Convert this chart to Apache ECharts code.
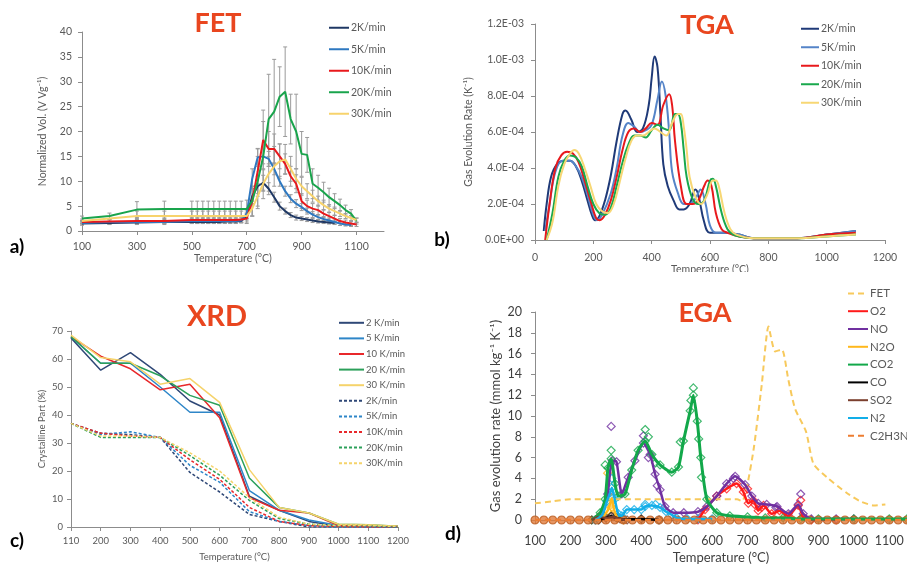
<!DOCTYPE html>
<html>
<head>
<meta charset="utf-8">
<script src="https://cdn.jsdelivr.net/npm/echarts@6/dist/echarts.min.js"></script>
<style>
  html, body { margin: 0; padding: 0; background: #fff; }
  #main { width: 907px; height: 565px; }
</style>
</head>
<body>
<div id="main"></div>
<script>
// ---- a) FET ----
var fetTemps = [100,200,300,400,500,520,540,560,580,600,620,640,660,680,700,720,740,760,780,800,820,840,860,880,900,920,940,960,980,1000,1020,1040,1060,1080,1100];
var fet2  = [1.5,1.6,1.7,1.8,1.8,1.8,1.8,1.8,1.8,1.8,1.9,1.9,1.9,2.0, 3.0,7.0,9.0,9.7,8.5,6.8,5.0,4.0,3.2,2.7,2.5,2.3,2.1,1.9,1.8,1.7,1.6,null,null,null,null];
var fet5  = [1.6,1.8,1.8,1.8,2.0,2.0,2.0,2.0,2.0,2.0,2.0,2.0,2.0,2.1, 3.5,10.5,14.8,15.0,14.5,12.5,10.0,8.0,6.5,5.5,4.8,4.0,3.3,2.8,2.4,2.1,1.8,1.5,1.3,1.2,null];
var fet10 = [1.8,1.9,2.0,2.0,2.2,2.2,2.2,2.2,2.2,2.2,2.2,2.2,2.2,2.3, 2.5,6.0,12.0,18.3,16.5,16.5,15.0,13.5,11.0,9.5,6.0,5.0,4.5,4.2,3.5,3.0,2.5,2.0,1.7,1.5,1.3];
var fet20 = [2.5,3.0,4.3,4.4,4.4,4.4,4.4,4.4,4.4,4.4,4.4,4.4,4.4,4.4, 4.4,6.0,10.0,15.0,22.5,24.0,27.0,28.0,22.5,20.0,15.5,15.3,9.5,8.7,7.8,6.8,6.0,5.2,4.2,3.5,2.0];
var fet30 = [2.0,2.5,3.0,3.0,3.0,3.0,3.0,3.0,3.0,3.0,3.0,3.0,3.0,3.0, 3.0,4.5,7.0,9.5,11.5,13.0,14.0,14.4,12.5,10.5,9.0,8.0,7.0,6.0,5.2,4.5,4.0,3.5,3.0,2.6,2.2];
var fetErr2  = [0.3,0.3,0.3,0.3,0.3,0.3,0.3,0.3,0.3,0.3,0.3,0.3,0.3,0.3, 0.8,1.5,2.0,1.5,1.2,1.0,0.8,0.6,0.5,0.5,0.4,0.4,0.4,0.3,0.3,0.3,0.3,null,null,null,null];
var fetErr5  = [0.4,0.5,0.5,0.5,0.5,0.5,0.5,0.5,0.5,0.5,0.5,0.5,0.5,0.5, 1.0,2.0,1.8,1.5,1.5,1.2,1.0,1.0,0.8,0.8,0.7,0.6,0.6,0.5,0.5,0.5,0.4,0.4,0.3,0.3,null];
var fetErr10 = [0.3,0.4,0.5,0.5,0.6,0.6,0.6,0.6,0.6,0.6,0.6,0.6,0.6,0.6, 1.0,3.0,4.5,6.0,3.5,3.0,2.5,2.0,2.0,1.8,1.5,1.2,1.0,1.0,0.8,0.8,0.6,0.5,0.5,0.4,0.4];
var fetErr20 = [0.5,0.6,1.6,1.6,1.6,1.6,1.6,1.6,1.6,1.6,1.6,1.6,1.6,1.6, 1.8,3.0,5.0,7.0,9.0,10.5,6.0,9.0,5.0,7.5,4.5,3.5,3.0,2.5,2.0,1.8,1.5,1.2,1.0,0.8,0.6];
var fetErr30 = [0.4,0.5,1.0,1.0,1.0,1.0,1.0,1.0,1.0,1.0,1.0,1.0,1.0,1.0, 1.2,1.5,2.5,3.0,3.5,4.0,3.5,3.0,2.5,2.0,1.8,1.5,1.2,1.0,1.0,0.8,0.8,0.6,0.5,0.5,0.4];

// ---- b) TGA (values in 1e-4 K^-1) ----
var tgaTickLabels = ['0.0E+00','2.0E-04','4.0E-04','6.0E-04','8.0E-04','1.0E-03','1.2E-03'];
var tga2 = [[30,0.5],[40,2.0],[55,3.5],[75,4.2],[100,4.4],[120,4.4],[140,4.1],[160,3.3],[180,2.2],[195,1.4],[206,1.1],[220,1.3],[240,2.2],[260,3.6],[280,5.5],[300,7.0],[310,7.2],[330,6.7],[350,6.0],[370,6.2],[390,7.5],[400,9.0],[410,10.2],[420,9.6],[430,7.0],[440,4.2],[455,3.0],[475,2.2],[495,1.7],[510,1.7],[530,2.0],[550,2.8],[560,2.5],[580,1.0],[600,0.4],[650,0.4],[700,0.3],[750,0.1],[800,0.1],[900,0.1],[1000,0.3],[1100,0.5]];
var tga5 = [[35,0.5],[50,2.0],[70,3.8],[95,4.4],[120,4.4],[140,4.1],[160,3.5],[180,2.5],[200,1.4],[212,1.1],[230,1.4],[260,2.6],[280,4.0],[300,5.8],[320,6.5],[340,6.3],[360,6.0],[380,6.1],[400,6.4],[420,7.8],[435,8.8],[448,8.0],[460,6.0],[470,3.8],[490,2.6],[510,2.0],[530,2.0],[550,2.3],[568,2.8],[585,2.0],[600,0.8],[620,0.4],[650,0.4],[700,0.3],[750,0.1],[800,0.1],[900,0.1],[1000,0.3],[1100,0.5]];
var tga10 = [[35,0.0],[50,2.0],[70,4.0],[90,4.7],[110,4.9],[130,4.8],[150,4.3],[170,3.3],[190,2.2],[210,1.2],[222,1.1],[240,1.4],[260,2.2],[280,3.5],[300,5.0],[320,6.0],[340,6.2],[360,6.0],[380,6.2],[400,6.5],[420,6.4],[440,7.5],[460,8.1],[470,7.5],[480,5.5],[500,3.0],[520,2.0],[540,2.0],[560,2.2],[580,3.0],[592,3.3],[605,3.0],[620,1.5],[640,0.6],[660,0.4],[700,0.2],[750,0.1],[800,0.1],[900,0.1],[1000,0.3],[1100,0.4]];
var tga20 = [[40,0.0],[60,1.5],[80,3.5],[100,4.4],[120,4.7],[140,4.6],[160,4.1],[180,3.0],[200,2.0],[220,1.5],[240,1.4],[260,1.8],[280,3.0],[300,4.3],[320,5.3],[340,5.8],[360,5.8],[380,5.7],[400,6.1],[420,6.4],[440,6.2],[460,6.1],[480,7.0],[490,7.0],[500,6.5],[510,5.0],[520,3.5],[540,2.3],[560,2.0],[580,2.2],[600,3.3],[610,3.4],[620,3.0],[640,1.5],[660,0.6],[680,0.3],[700,0.2],[750,0.1],[800,0.1],[900,0.1],[1000,0.2],[1100,0.3]];
var tga30 = [[40,0.0],[60,1.0],[80,3.0],[100,4.2],[120,4.8],[135,5.0],[150,4.8],[170,4.0],[190,3.0],[210,2.0],[230,1.6],[250,1.5],[270,2.0],[290,3.2],[310,4.5],[330,5.5],[350,5.8],[370,5.8],[390,6.0],[410,6.2],[430,6.0],[450,5.8],[470,6.5],[490,7.0],[500,7.0],[510,6.3],[520,5.0],[530,3.5],[550,2.4],[570,2.0],[590,2.5],[610,3.3],[620,3.3],[630,3.0],[650,1.5],[670,0.6],[690,0.3],[750,0.1],[800,0.1],[900,0.1],[1000,0.2],[1100,0.3]];

// ---- c) XRD ----
var xrdTemps = ['110','200','300','400','500','600','700','800','900','1000','1100','1200'];
var xrd2s  = [67.5,56,62.3,54.5,45,40,11,6,2,0.3,0.2,0.2];
var xrd5s  = [68,58.5,58.5,50,41,41,13,6,2.5,0.5,0.3,0.2];
var xrd10s = [68,61,56.5,49,51,39,10.5,6,5,0.5,0.5,0.3];
var xrd20s = [68,58.5,58.5,54,47,43.5,17.5,7,5,1,0.8,0.3];
var xrd30s = [68.5,60.5,59,51,53,44.5,20.5,7,5,1,0.8,0.3];
var xrd2d  = [37,33.5,33,32,19.5,12.5,4.5,2,0,0,0,0];
var xrd5d  = [37,33,34,32,22,16,5.5,2,0.5,0,0,0];
var xrd10d = [37,33.5,32.5,32,24,17,7,2,0.5,0.2,0,0];
var xrd20d = [37,32,32,32,25.5,18.5,9.5,3,1,0.5,0.5,0];
var xrd30d = [37,32.5,32.5,32,26.5,20,10.5,3.5,1,0.5,0.5,0.2];

// ---- d) EGA ----
var egaFET = [[100,1.6],[150,1.8],[200,2.0],[300,2.0],[400,2.0],[500,2.0],[600,2.0],[670,2.0],[685,1.8],[700,3.5],[718,7.0],[740,13.0],[759,18.6],[778,16.2],[797,16.4],[815,13.5],[834,10.7],[865,8.5],[886,5.4],[924,4.1],[980,2.6],[1018,1.8],[1056,1.4],[1089,1.5]];
var egaO2 = [[560,0],[580,1.0],[613,2.3],[641,3.0],[669,3.5],[688,2.7],[702,1.6],[716,1.9],[730,0.9],[745,1.4],[768,0.6],[790,0.9],[815,0.4],[843,1.4],[857,0.3],[880,0],[950,0]];
var egaNO = [[270,0],[290,0.5],[305,2.5],[318,5.7],[330,5.6],[345,2.5],[363,4.1],[382,5.7],[406,7.4],[425,6.3],[439,4.4],[453,2.9],[467,1.3],[490,0.7],[520,0.7],[560,0.8],[585,1.3],[613,2.3],[641,3.5],[665,4.2],[693,3.4],[712,2.3],[730,1.6],[754,1.5],[783,1.3],[815,0.6],[843,1.5],[857,0.6],[880,0.1],[950,0.1],[1000,0.1]];
var egaN2O = [[270,0],[290,0.3],[305,0.9],[312,1.6],[317,2.1],[323,1.0],[333,0.2],[350,0]];
var egaCO2 = [[260,0],[284,0.7],[298,2.0],[306,5.0],[315,5.9],[326,3.5],[335,2.3],[354,2.5],[373,4.8],[391,6.7],[411,7.6],[430,6.3],[453,5.3],[486,4.6],[505,5.1],[519,7.6],[538,10.5],[547,12.0],[558,9.5],[568,6.0],[585,2.0],[613,0.7],[650,0.4],[700,0.3],[750,0.2],[800,0.2],[850,0.1],[900,0.1],[1000,0.1],[1100,0.1],[1150,0.1]];
var egaCO = [[280,0],[300,0.2],[315,0.35],[330,0.2],[350,0.05],[400,0.1],[450,0]];
var egaSO2 = [[260,0],[280,0.3],[300,0.2],[320,0.3],[340,0.1],[360,0]];
var egaN2 = [[270,0],[290,0.5],[303,1.8],[312,2.6],[317,3.1],[325,2.0],[335,0.6],[345,0.4],[359,1.0],[380,1.0],[400,1.0],[411,1.3],[430,1.4],[453,1.2],[470,0.8],[486,0.5],[500,0.2],[530,0.1],[560,0.1],[600,0.1]];
var egaC2H3NTemps = [100,125,150,175,200,225,250,275,300,325,350,375,400,425,450,475,500,525,550,575,600,625,650,675,700,725,750,775,800,825,850,875,900,925,950,975,1000,1025,1050,1075,1100,1125,1150];
var egaC2H3N = [0,0,0,0,0,0,0,0,0,0,0,0,0,0,0,0,0,0,0,0,0,0,0,0,0,0,0,0,0,0,0,0,0,0,0,0,0,0,0,0,0,0,0];
// extra measured points (diamonds) off the fitted lines
var co2Marks = [[298,5.3],[315,6.7],[411,8.7],[420,8.0],[440,5.5],[510,7.5],[540,11.5],[547,12.7],[562,7.8],[570,4.1]];
var noMarks  = [[315,9.0],[406,8.1],[420,6.0],[445,3.3],[660,4.0],[850,2.5],[780,1.2]];
var o2Marks  = [[850,1.9],[700,3.0],[720,1.5],[740,1.2]];
var n2oMarks = [[305,4.5],[317,1.2]];
var n2Marks  = [[317,4.0],[411,1.5],[440,1.5]];

var FONT = 'Lato, "Liberation Sans", sans-serif';
var TXT = '#595959';
var AX = '#8c8c8c';

function zip(xs, ys) {
  var out = [];
  for (var i = 0; i < xs.length; i++) out.push([xs[i], ys[i]]);
  return out;
}
function errData(xs, ys, es) {
  var out = [];
  for (var i = 0; i < xs.length; i++) {
    if (ys[i] == null || es[i] == null) continue;
    out.push([xs[i], Math.max(0, ys[i] - es[i]), ys[i] + es[i]]);
  }
  return out;
}
function plain(v) { return String(v); }
function line(name, data, color, idx, width, dashed, smooth) {
  return {
    name: name, type: 'line', data: data, xAxisIndex: idx, yAxisIndex: idx,
    symbol: 'none', smooth: smooth || false, connectNulls: false,
    lineStyle: { color: color, width: width, type: dashed ? dashed : 'solid' },
    itemStyle: { color: color }, z: 3
  };
}
function marks(name, data, color, sym, size) {
  return {
    name: name, type: 'scatter', data: data, xAxisIndex: 3, yAxisIndex: 3,
    symbol: sym, symbolSize: size,
    itemStyle: { color: sym === 'circle' ? '#e07b39' : 'rgba(255,255,255,0)', borderColor: color, borderWidth: 1.2 },
    z: 2, silent: true
  };
}
function errorBars(data) {
  return {
    type: 'custom', xAxisIndex: 0, yAxisIndex: 0, data: data, z: 1, silent: true,
    encode: { x: 0, y: [1, 2] },
    renderItem: function (params, api) {
      var p1 = api.coord([api.value(0), api.value(1)]);
      var p2 = api.coord([api.value(0), api.value(2)]);
      var st = { stroke: '#9a9a9a', lineWidth: 1 };
      return { type: 'group', children: [
        { type: 'line', shape: { x1: p1[0], y1: p1[1], x2: p2[0], y2: p2[1] }, style: st },
        { type: 'line', shape: { x1: p1[0] - 2, y1: p1[1], x2: p1[0] + 2, y2: p1[1] }, style: st },
        { type: 'line', shape: { x1: p2[0] - 2, y1: p2[1], x2: p2[0] + 2, y2: p2[1] }, style: st }
      ]};
    }
  };
}
function valAxis(idx, o) {
  var a = {
    type: 'value', gridIndex: idx,
    axisLine: { show: true, lineStyle: { color: AX, width: 1 } },
    axisTick: { show: true, length: 4, lineStyle: { color: AX } },
    splitLine: { show: false },
    axisLabel: { color: TXT, fontFamily: FONT, fontSize: 10.5, formatter: plain },
    nameTextStyle: { color: TXT, fontFamily: FONT, fontSize: 10.5 }
  };
  for (var k in o) {
    if (typeof o[k] === 'object' && a[k] && !Array.isArray(o[k])) { for (var j in o[k]) a[k][j] = o[k][j]; }
    else a[k] = o[k];
  }
  return a;
}
// legend rows: line icon only (symbol hidden), row pitch set by lineHeight
function legend(names, left, top, w, pitch, fs) {
  return {
    orient: 'vertical', left: left, top: top, itemWidth: w, itemHeight: 10, itemGap: 0,
    data: names, selectedMode: false,
    itemStyle: { opacity: 0 },
    formatter: function (n) { return n.split('|')[1]; },
    textStyle: { color: TXT, fontFamily: FONT, fontSize: fs, lineHeight: pitch, padding: [0, 0, 0, -3] }
  };
}

var fetColors = ['#1f3864', '#2e78c0', '#e8191c', '#19a44c', '#f7d36c'];
var tgaColors = ['#1f3a78', '#5584c8', '#e8191c', '#19a84d', '#f7d774'];
var xrdColors = ['#2f4877', '#2e86c8', '#e8282b', '#2ca05a', '#f5d36b'];
var rates = ['2K/min', '5K/min', '10K/min', '20K/min', '30K/min'];
var xrdSolidNames = ['2 K/min', '5 K/min', '10 K/min', '20 K/min', '30 K/min'];

var series = [];
// error bars first (under lines)
[[fet2, fetErr2], [fet5, fetErr5], [fet10, fetErr10], [fet20, fetErr20], [fet30, fetErr30]].forEach(function (p) {
  series.push(errorBars(errData(fetTemps, p[0], p[1])));
});
[fet2, fet5, fet10, fet20, fet30].forEach(function (d, i) {
  series.push(line('a|' + rates[i], zip(fetTemps, d), fetColors[i], 0, 2));
});
[tga2, tga5, tga10, tga20, tga30].forEach(function (d, i) {
  series.push(line('b|' + rates[i], d, tgaColors[i], 1, 2, null, 0.4));
});
[xrd2s, xrd5s, xrd10s, xrd20s, xrd30s].forEach(function (d, i) {
  series.push(line('c|' + xrdSolidNames[i], d, xrdColors[i], 2, 1.5));
});
[xrd2d, xrd5d, xrd10d, xrd20d, xrd30d].forEach(function (d, i) {
  series.push(line('cd|' + rates[i], d, xrdColors[i], 2, 1.5, [3, 2]));
});

var egaDefs = [
  ['FET', egaFET, '#f7c95c', [6, 4], null],
  ['O2', egaO2, '#ff1a1a', null, o2Marks],
  ['NO', egaNO, '#7030a0', null, noMarks],
  ['N2O', egaN2O, '#ffb81c', null, n2oMarks],
  ['CO2', egaCO2, '#12a84a', null, co2Marks],
  ['CO', egaCO, '#000000', null, null],
  ['SO2', egaSO2, '#7b3f2e', null, null],
  ['N2', egaN2, '#12aee8', null, n2Marks],
  ['C2H3N', zip(egaC2H3NTemps, egaC2H3N), '#ed7d31', [6, 4], null]
];
egaDefs.forEach(function (d) {
  if (d[0] !== 'FET' && d[0] !== 'C2H3N') {
    series.push(marks('m_' + d[0], d[1].concat(d[4] || []), d[2], 'diamond', 8));
  }
});
series.push(marks('m_C2H3N', zip(egaC2H3NTemps, egaC2H3N), '#b85a1e', 'circle', 8));
egaDefs.forEach(function (d) {
  var s = line('d|' + d[0], d[1], d[2], 3, d[0] === 'FET' ? 2 : 2.5, d[3], 0.2);
  if (d[0] === 'CO2') s.lineStyle.width = 3;
  series.push(s);
});

var option = {
  animation: false,
  backgroundColor: '#fff',
  grid: [
    { left: 82, top: 32, width: 302, height: 199 },
    { left: 535, top: 24, width: 350, height: 216 },
    { left: 71, top: 331, width: 327, height: 196 },
    { left: 535, top: 312, width: 372, height: 212 }
  ],
  xAxis: [
    valAxis(0, { min: 100, max: 1200, interval: 200, name: 'Temperature (°C)', nameLocation: 'middle', nameGap: 21,
      axisLabel: { margin: 10, showMaxLabel: false } }),
    valAxis(1, { min: 0, max: 1200, interval: 200, name: 'Temperature (°C)', nameLocation: 'middle', nameGap: 22,
      axisLabel: { margin: 12 } }),
    { type: 'category', gridIndex: 2, data: xrdTemps, boundaryGap: false,
      name: 'Temperature (°C)', nameLocation: 'middle', nameGap: 25,
      nameTextStyle: { color: TXT, fontFamily: FONT, fontSize: 9.5 },
      axisLine: { lineStyle: { color: AX } },
      axisTick: { length: 4, interval: 0, lineStyle: { color: AX } },
      axisLabel: { color: TXT, fontFamily: FONT, fontSize: 9.5, interval: 0, margin: 9 } },
    valAxis(3, { min: 100, max: 1150, interval: 100, name: 'Temperature (°C)', nameLocation: 'middle', nameGap: 31,
      axisLabel: { fontSize: 12.5, margin: 14, showMaxLabel: false, color: '#404040' },
      nameTextStyle: { fontSize: 13, color: '#404040' } })
  ],
  yAxis: [
    valAxis(0, { min: 0, max: 40, interval: 5, name: 'Normalized Vol. (V Vg⁻¹)', nameLocation: 'middle', nameGap: 34,
      axisLabel: { margin: 10 } }),
    valAxis(1, { min: 0, max: 12, interval: 2, name: 'Gas Evolution Rate (K⁻¹)', nameLocation: 'middle', nameGap: 61,
      axisLabel: { margin: 11, formatter: function (v) { return tgaTickLabels[Math.round(v / 2)]; } } }),
    valAxis(2, { min: 0, max: 70, interval: 10, name: 'Crystalline Part (%)', nameLocation: 'middle', nameGap: 24,
      axisLabel: { fontSize: 9.5, margin: 8 }, nameTextStyle: { fontSize: 9.5 } }),
    valAxis(3, { min: 0, max: 20, interval: 2, name: 'Gas evolution rate (mmol kg⁻¹ K⁻¹)', nameLocation: 'middle', nameGap: 33,
      axisLabel: { fontSize: 12.5, margin: 13, color: '#404040' }, nameTextStyle: { fontSize: 13, color: '#404040' } })
  ],
  legend: [
    legend(rates.map(function (r) { return 'a|' + r; }), 323, 12, 20, 21.5, 10.5),
    legend(rates.map(function (r) { return 'b|' + r; }), 795, 14.5, 18, 18.5, 10.5),
    legend(xrdSolidNames.map(function (r) { return 'c|' + r; }).concat(rates.map(function (r) { return 'cd|' + r; })), 333, 310, 25, 15.6, 9.5),
    legend(egaDefs.map(function (d) { return 'd|' + d[0]; }), 842, 279.5, 20, 17.8, 11.5)
  ],
  graphic: [
    { type: 'text', x: 218, y: 23, z: 10, style: { text: 'FET', fill: '#e9461f', font: 'bold 27px ' + FONT, textAlign: 'center', textVerticalAlign: 'middle' } },
    { type: 'text', x: 707, y: 25, z: 10, style: { text: 'TGA', fill: '#e9461f', font: 'bold 27px ' + FONT, textAlign: 'center', textVerticalAlign: 'middle' } },
    { type: 'text', x: 217, y: 317, z: 10, style: { text: 'XRD', fill: '#e9461f', font: 'bold 29px ' + FONT, textAlign: 'center', textVerticalAlign: 'middle' } },
    { type: 'text', x: 705, y: 313, z: 10, style: { text: 'EGA', fill: '#e9461f', font: 'bold 27px ' + FONT, textAlign: 'center', textVerticalAlign: 'middle' } },
    { type: 'text', x: 17, y: 247, z: 10, style: { text: 'a)', fill: '#000', font: 'bold 19px ' + FONT, textAlign: 'center', textVerticalAlign: 'middle' } },
    { type: 'text', x: 442, y: 240, z: 10, style: { text: 'b)', fill: '#000', font: 'bold 19px ' + FONT, textAlign: 'center', textVerticalAlign: 'middle' } },
    { type: 'text', x: 17, y: 541, z: 10, style: { text: 'c)', fill: '#000', font: 'bold 19px ' + FONT, textAlign: 'center', textVerticalAlign: 'middle' } },
    { type: 'text', x: 453, y: 534, z: 10, style: { text: 'd)', fill: '#000', font: 'bold 19px ' + FONT, textAlign: 'center', textVerticalAlign: 'middle' } },
    // the TGA panel is cropped just below its axis title
    { type: 'rect', z: 100, shape: { x: 600, y: 272, width: 220, height: 10 }, style: { fill: '#fff' } }
  ],
  series: series
};

var myChart = echarts.init(document.getElementById('main'));
myChart.setOption(option);
</script>
</body>
</html>
